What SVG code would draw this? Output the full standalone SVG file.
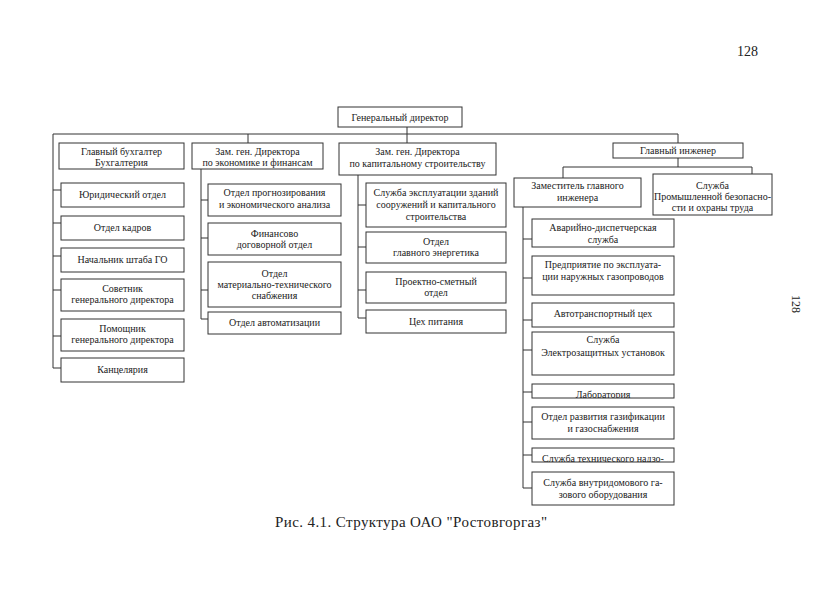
<svg xmlns="http://www.w3.org/2000/svg" width="838" height="597" viewBox="0 0 838 597">
<style>
.b{fill:#fff;stroke:#333;stroke-width:1}
.c{fill:none;stroke:#333;stroke-width:1}
.t{font-family:"Liberation Serif","Times New Roman",serif;font-size:10px;text-anchor:middle;fill:#222}
.cap{font-family:"Liberation Serif","Times New Roman",serif;font-size:15px;fill:#222}
</style>
<defs>
<clipPath id="clipLab"><rect x="532" y="384" width="142" height="14"/></clipPath>
<clipPath id="clipNad"><rect x="532" y="448" width="142" height="14"/></clipPath>
</defs>
<rect width="838" height="597" fill="#fff"/>
<text x="737" y="56" font-family="Liberation Serif, serif" font-size="14" fill="#222">128</text>
<text transform="translate(792,295) rotate(90)" font-family="Liberation Serif, serif" font-size="12" fill="#222">128</text>

<g id="connectors">
<path class="c" d="M407,127V134M53,134H678V143M53,134V368M248,134V143M407,134V143"/>
<path class="c" d="M53,190H61M53,223H61M53,256H61M53,290H61M53,336H61M53,368H61"/>
<path class="c" d="M201,169V319M201,200H208M201,238H208M201,290H208M201,319H208"/>
<path class="c" d="M358,175V318M358,205H366M358,247H366M358,290H366M358,318H366"/>
<path class="c" d="M678,158V167M563,167H752M563,167V178M752,167V174"/>
<path class="c" d="M523,207V488M523,239H532M523,278H532M523,320H532M523,350H532M523,392H532M523,422H532M523,455H532M523,488H532"/>
</g>

<g id="gd"><rect class="b" x="338" y="107" width="124" height="20"/><text class="t" x="400" y="121">Генеральный директор</text></g>

<g id="buh"><rect class="b" x="59" y="143" width="125" height="26"/><text class="t" x="121.5" y="155">Главный бухгалтер</text><text class="t" x="121.5" y="166">Бухгалтерия</text></g>
<g id="zam-econ"><rect class="b" x="192" y="143" width="131" height="26"/><text class="t" x="257.5" y="155">Зам. ген. Директора</text><text class="t" x="257.5" y="166">по экономике и финансам</text></g>
<g id="zam-cap"><rect class="b" x="339" y="143" width="157" height="32"/><text class="t" x="417.5" y="155">Зам. ген. Директора</text><text class="t" x="417.5" y="167">по капитальному строительству</text></g>
<g id="gi"><rect class="b" x="613" y="143" width="130" height="15"/><text class="t" x="678" y="154">Главный инженер</text></g>
<g id="zgi"><rect class="b" x="514" y="178" width="127" height="29"/><text class="t" x="577.5" y="189">Заместитель главного</text><text class="t" x="577.5" y="201">инженера</text></g>
<g id="prombez"><rect class="b" x="653" y="174" width="119" height="41"/><text class="t" x="712.5" y="189">Служба</text><text class="t" x="712.5" y="200">Промышленной безопасно-</text><text class="t" x="712.5" y="211">сти и охраны труда</text></g>

<g id="yur"><rect class="b" x="61" y="183" width="123" height="24"/><text class="t" x="122.5" y="198">Юридический отдел</text></g>
<g id="kadr"><rect class="b" x="61" y="216" width="123" height="24"/><text class="t" x="122.5" y="231">Отдел кадров</text></g>
<g id="go"><rect class="b" x="61" y="248" width="123" height="24"/><text class="t" x="122.5" y="263">Начальник штаба ГО</text></g>
<g id="sovetnik"><rect class="b" x="61" y="279" width="123" height="32"/><text class="t" x="122.5" y="292">Советник</text><text class="t" x="122.5" y="303">генерального директора</text></g>
<g id="pomoshnik"><rect class="b" x="61" y="319" width="123" height="32"/><text class="t" x="122.5" y="332">Помощник</text><text class="t" x="122.5" y="343">генерального директора</text></g>
<g id="kanc"><rect class="b" x="61" y="358" width="123" height="24"/><text class="t" x="122.5" y="373">Канцелярия</text></g>

<g id="prognoz"><rect class="b" x="208" y="184" width="133" height="32"/><text class="t" x="274.5" y="196">Отдел прогнозирования</text><text class="t" x="274.5" y="208">и экономического анализа</text></g>
<g id="finans"><rect class="b" x="208" y="223" width="133" height="32"/><text class="t" x="274.5" y="237">Финансово</text><text class="t" x="274.5" y="248">договорной отдел</text></g>
<g id="mts"><rect class="b" x="208" y="262" width="133" height="45"/><text class="t" x="274.5" y="277">Отдел</text><text class="t" x="274.5" y="288">материально-технического</text><text class="t" x="274.5" y="299">снабжения</text></g>
<g id="avtomat"><rect class="b" x="208" y="312" width="133" height="22"/><text class="t" x="274.5" y="326">Отдел автоматизации</text></g>

<g id="ekspl"><rect class="b" x="366" y="183" width="140" height="44"/><text class="t" x="436" y="196">Служба эксплуатации зданий</text><text class="t" x="436" y="208">сооружений и капитального</text><text class="t" x="436" y="220">строительства</text></g>
<g id="energ"><rect class="b" x="366" y="232" width="140" height="31"/><text class="t" x="436" y="245">Отдел</text><text class="t" x="436" y="256">главного энергетика</text></g>
<g id="smet"><rect class="b" x="366" y="272" width="140" height="31"/><text class="t" x="436" y="285">Проектно-сметный</text><text class="t" x="436" y="296">отдел</text></g>
<g id="pitanie"><rect class="b" x="366" y="310" width="140" height="23"/><text class="t" x="436" y="325">Цех питания</text></g>

<g id="avar"><rect class="b" x="532" y="219" width="142" height="28"/><text class="t" x="603" y="231">Аварийно-диспетчерская</text><text class="t" x="603" y="243">служба</text></g>
<g id="predpr"><rect class="b" x="532" y="256" width="142" height="39"/><text class="t" x="603" y="268">Предприятие по эксплуата-</text><text class="t" x="603" y="280">ции наружных газопроводов</text></g>
<g id="avtotrans"><rect class="b" x="532" y="303" width="142" height="24"/><text class="t" x="603" y="317">Автотранспортный цех</text></g>
<g id="elektro"><rect class="b" x="532" y="332" width="142" height="43"/><text class="t" x="603" y="343">Служба</text><text class="t" x="603" y="356">Электрозащитных установок</text></g>
<g id="lab"><rect class="b" x="532" y="384" width="142" height="14"/><text class="t" x="603" y="398" clip-path="url(#clipLab)">Лаборатория</text></g>
<g id="gazif"><rect class="b" x="532" y="407" width="142" height="32"/><text class="t" x="603" y="420">Отдел развития газификации</text><text class="t" x="603" y="432">и газоснабжения</text></g>
<g id="nadzor"><rect class="b" x="532" y="448" width="142" height="14"/><text class="t" x="603" y="462" clip-path="url(#clipNad)">Служба технического надзо-</text></g>
<g id="vdgo"><rect class="b" x="532" y="472" width="142" height="33"/><text class="t" x="603" y="486">Служба внутридомового га-</text><text class="t" x="603" y="498">зового оборудования</text></g>

<text class="cap" x="275" y="527" textLength="272" lengthAdjust="spacing">Рис. 4.1. Структура ОАО "Ростовгоргаз"</text>
</svg>
